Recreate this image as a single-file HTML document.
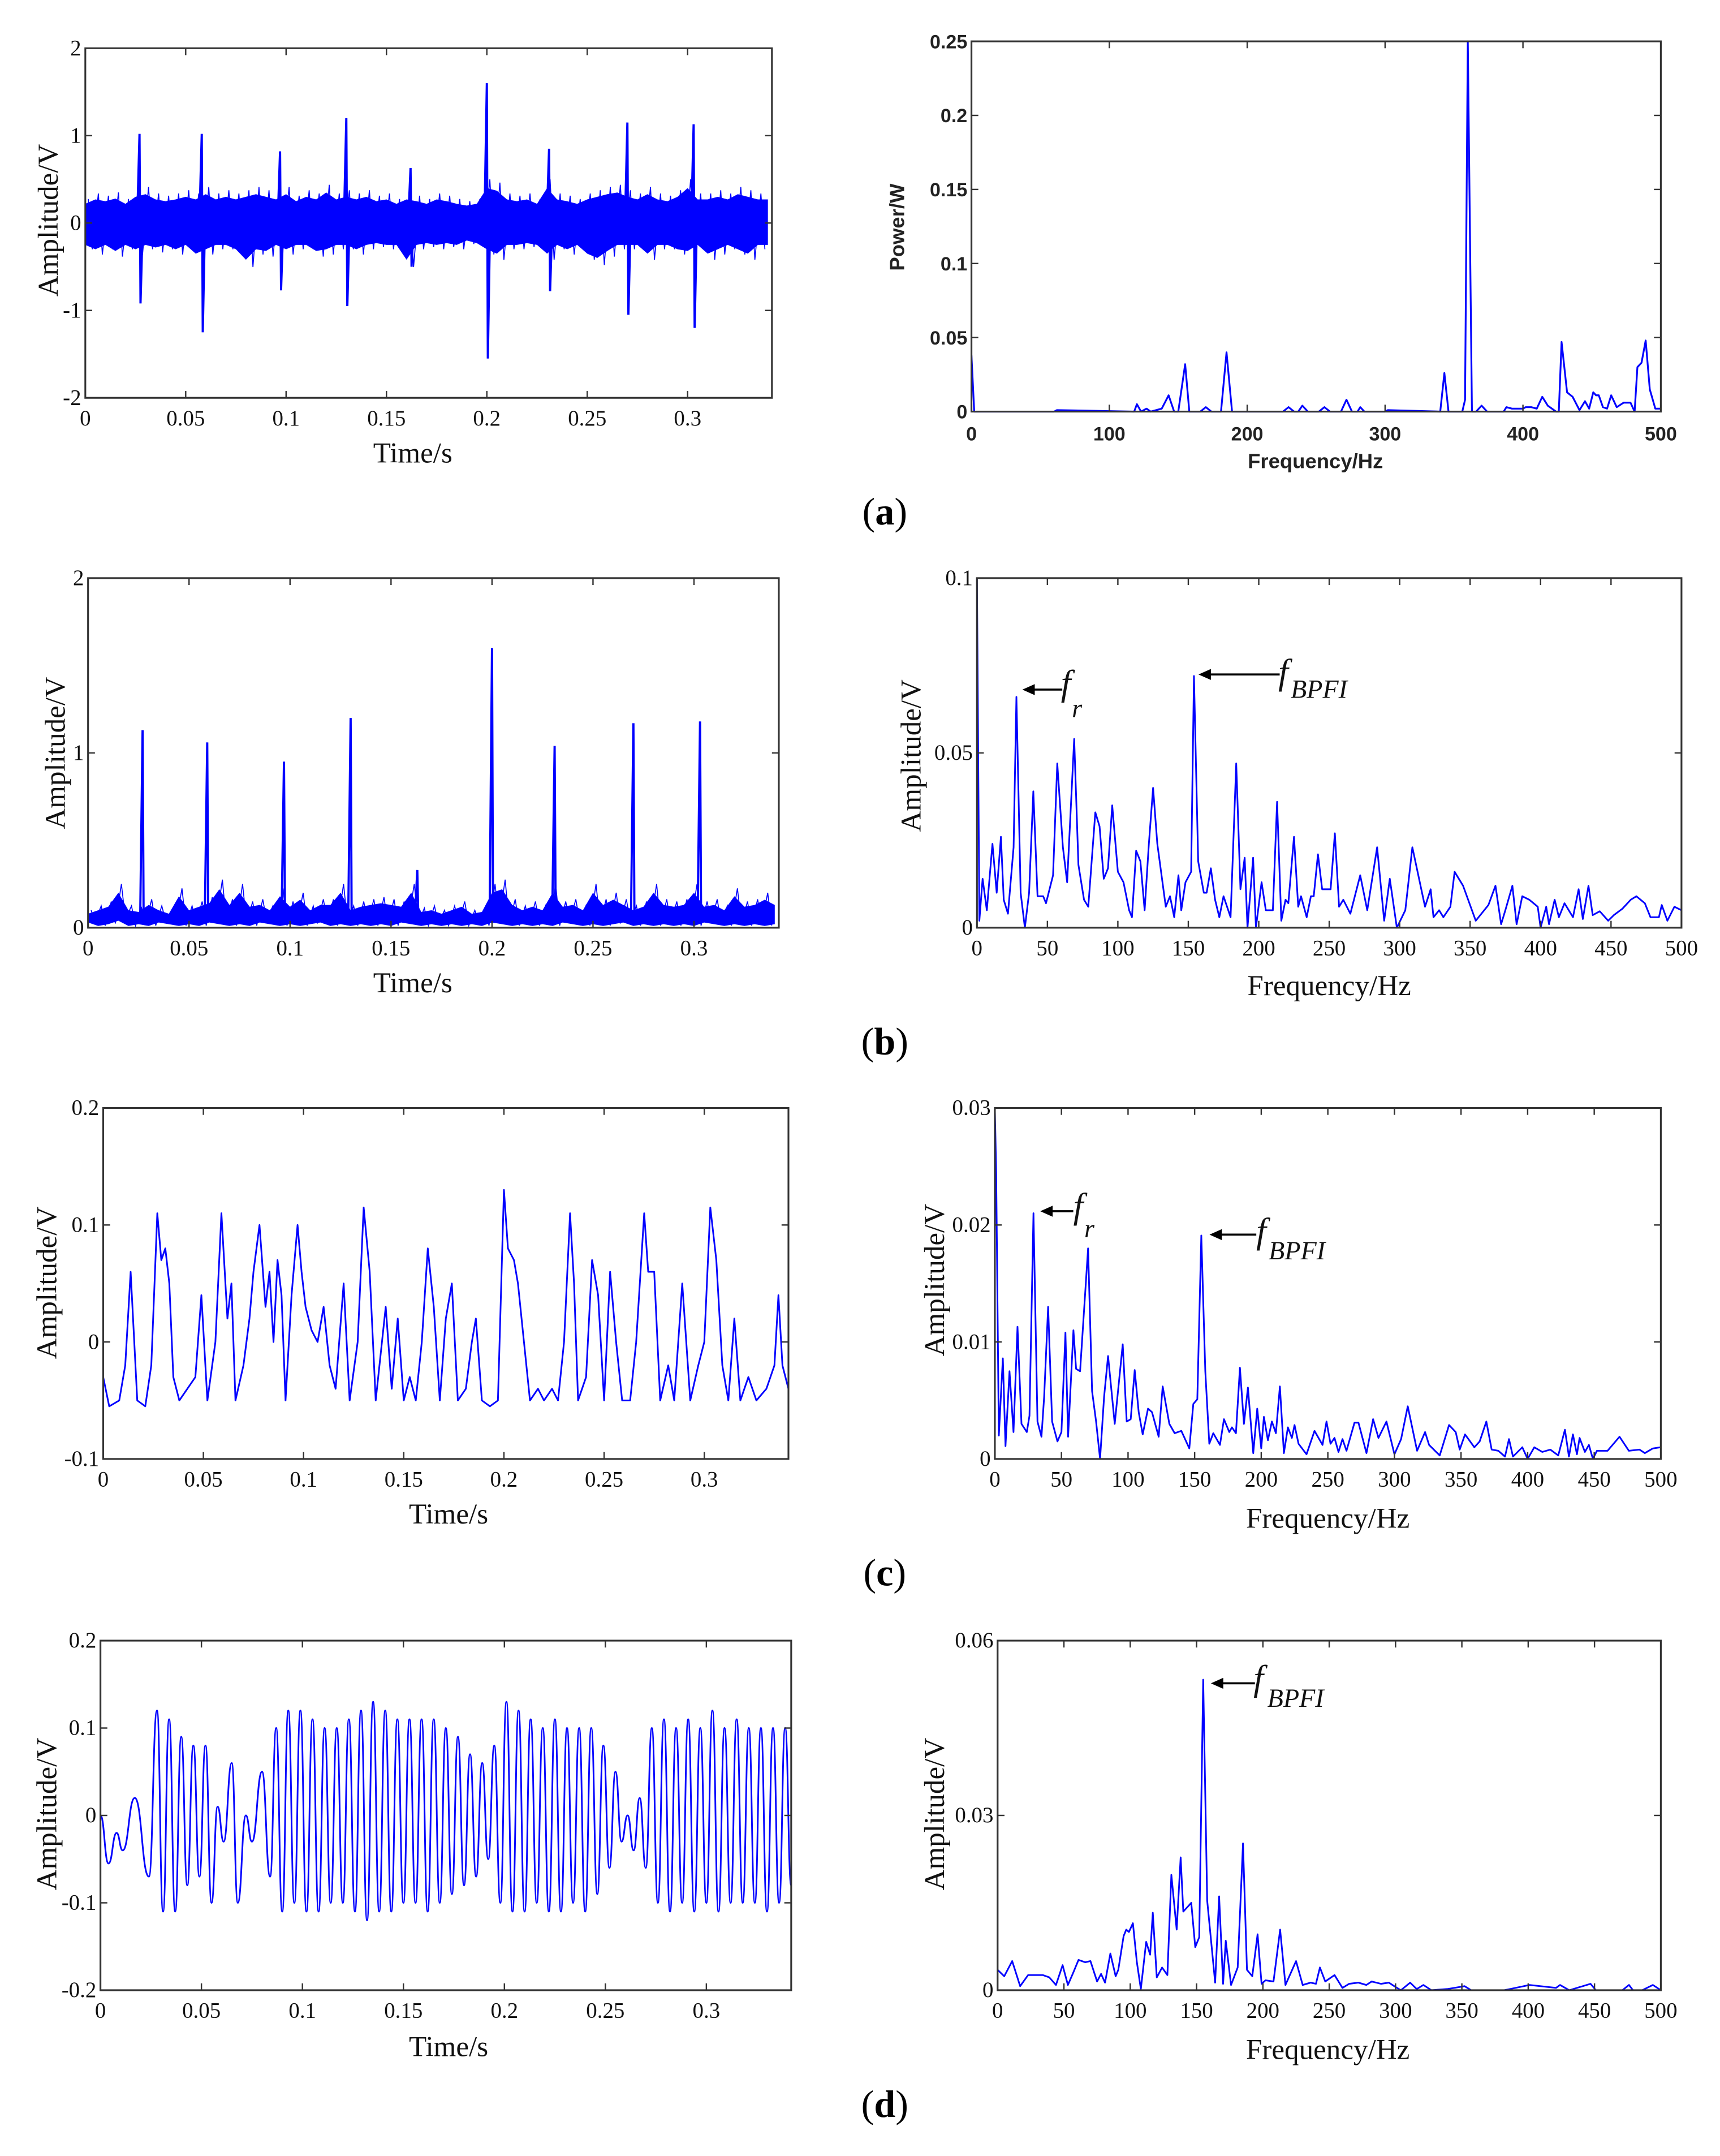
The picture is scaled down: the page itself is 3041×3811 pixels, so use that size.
<!DOCTYPE html>
<html><head><meta charset="utf-8"><style>
html,body{margin:0;padding:0;background:#fff}
svg{display:block}
.tk{font-family:"Liberation Serif",serif;font-size:16px;fill:#111}
.tt{font-family:"Liberation Serif",serif;font-size:21px;fill:#111}
.sb{font-family:"Liberation Sans",sans-serif;font-weight:bold;fill:#222}
.an{font-family:"Liberation Serif",serif;font-style:italic;fill:#111}
</style></head><body>
<svg id="fig" width="3041" height="3811" viewBox="0 0 1250 1566.4" xmlns="http://www.w3.org/2000/svg">
<rect x="0" y="0" width="1250" height="1566.4" fill="#fff"/>
</svg>
<script>
// ---------- DATA ----------
// (a) raw time signal: noise band (every 0.005 s) + impulses
const aBandUpper=[0.22,0.27,0.25,0.28,0.22,0.3,0.33,0.27,0.25,0.27,0.3,0.27,0.33,0.27,0.3,0.27,0.3,0.33,0.3,0.27,0.33,0.25,0.3,0.27,0.35,0.27,0.3,0.27,0.3,0.25,0.27,0.22,0.27,0.25,0.22,0.27,0.25,0.22,0.2,0.22,0.4,0.37,0.27,0.25,0.27,0.22,0.4,0.27,0.25,0.22,0.27,0.3,0.33,0.35,0.3,0.27,0.33,0.27,0.25,0.3,0.4,0.27,0.27,0.3,0.27,0.33,0.3,0.27,0.27];
const aBandLower=[-0.25,-0.3,-0.25,-0.32,-0.25,-0.3,-0.25,-0.28,-0.25,-0.3,-0.25,-0.35,-0.3,-0.25,-0.25,-0.3,-0.42,-0.3,-0.32,-0.25,-0.3,-0.25,-0.25,-0.32,-0.3,-0.25,-0.25,-0.3,-0.25,-0.23,-0.25,-0.25,-0.42,-0.25,-0.23,-0.25,-0.23,-0.25,-0.2,-0.23,-0.3,-0.35,-0.25,-0.25,-0.23,-0.25,-0.35,-0.25,-0.3,-0.25,-0.35,-0.4,-0.32,-0.25,-0.25,-0.25,-0.35,-0.25,-0.25,-0.3,-0.32,-0.25,-0.35,-0.3,-0.25,-0.3,-0.35,-0.25,-0.25];
const aSpikeTimes=[0.027,0.058,0.097,0.13,0.162,0.2,0.231,0.27,0.303];
const aSpikeUp=[1.02,1.02,0.82,1.2,0.63,1.6,0.85,1.15,1.13];
const aSpikeDown=[-0.92,-1.25,-0.77,-0.95,-0.5,-1.55,-0.78,-1.05,-1.2];
// (a) power spectrum
const aFreq=[0,2,60,62,118,120,123,127,130,138,143,147,150,155,158,166,170,174,181,185,189,226,230,234,237,240,244,252,256,260,268,272,276,280,282,285,300,302,340,343,346,356,358,360,363,366,370,374,386,388,392,400,402,406,410,414,418,424,426,428,432,436,441,445,448,451,453,455,458,461,464,468,473,478,481,483,486,489,492,496,500];
const aPow=[0.038,0,0,0.001,0,0.005,0,0.002,0,0.002,0.011,0,0,0.032,0,0,0.003,0,0,0.04,0,0,0.003,0,0,0.004,0,0,0.003,0,0,0.008,0,0,0.003,0,0,0.001,0,0.026,0,0,0.008,0.25,0,0,0.004,0,0,0.003,0.002,0.002,0.003,0.003,0.002,0.01,0.004,0,0,0.047,0.013,0.01,0.001,0.007,0.002,0.013,0.011,0.011,0.003,0.002,0.011,0.003,0.006,0.006,0,0.03,0.033,0.048,0.015,0.002,0.002];
// (b) envelope time signal
const bBandUpper=[0.08,0.1,0.12,0.2,0.1,0.09,0.13,0.1,0.08,0.18,0.1,0.12,0.14,0.22,0.13,0.2,0.12,0.13,0.1,0.18,0.12,0.16,0.1,0.13,0.13,0.2,0.1,0.12,0.13,0.14,0.13,0.12,0.2,0.09,0.1,0.08,0.1,0.12,0.08,0.09,0.2,0.22,0.13,0.1,0.12,0.1,0.2,0.12,0.13,0.1,0.2,0.13,0.16,0.13,0.1,0.12,0.2,0.13,0.12,0.13,0.2,0.12,0.13,0.1,0.18,0.12,0.13,0.16,0.13];
const bBandLower=[0.03,0.01,0.02,0.04,0.01,0.02,0.01,0.03,0.02,0.01,0.02,0.01,0.03,0.02,0.01,0.02,0.01,0.03,0.02,0.01,0.02,0.01,0.02,0.03,0.01,0.02,0.01,0.02,0.01,0.02,0.01,0.03,0.02,0.01,0.02,0.01,0.02,0.01,0.02,0.01,0.03,0.02,0.01,0.02,0.01,0.02,0.01,0.03,0.02,0.01,0.02,0.01,0.02,0.03,0.01,0.02,0.01,0.02,0.01,0.02,0.01,0.03,0.02,0.01,0.02,0.01,0.02,0.01,0.02];
const bSpikeTimes=[0.027,0.059,0.097,0.13,0.163,0.2,0.231,0.27,0.303];
const bSpikeUp=[1.13,1.06,0.95,1.2,0.33,1.6,1.04,1.17,1.18];
// (b) envelope spectrum
const bFreq=[0,1.7,4,7,11,14,17,19,22,26,28,31,34,37,40,43,47,49,54,57,61,64,69,72,76,79,84,87,90,93,96,100,104,108,110,113,116,119,122,125,128,134,137,140,143,145,148,152,154,157,161,163,166,169,172,175,180,184,187,190,192,196,198,202,205,210,213,216,219,221,225,228,230,234,237,239,242,245,251,254,257,260,265,272,277,284,289,293,298,304,309,318,322,324,328,331,336,339,345,354,363,368,372,375,380,383,387,392,398,400,404,406,410,413,417,423,427,430,434,437,442,448,452,458,464,468,474,478,484,486,490,495,500];
const bAmp=[0.1,0.002,0.014,0.005,0.024,0.01,0.026,0.008,0.004,0.023,0.066,0.01,0,0.01,0.039,0.009,0.009,0.007,0.015,0.047,0.023,0.013,0.054,0.018,0.008,0.006,0.033,0.029,0.014,0.017,0.035,0.016,0.013,0.005,0.003,0.022,0.019,0.005,0.024,0.04,0.024,0.006,0.009,0.003,0.015,0.005,0.013,0.016,0.072,0.019,0.01,0.01,0.017,0.008,0.003,0.009,0.003,0.047,0.011,0.02,0,0.02,0,0.013,0.005,0.005,0.036,0.002,0.008,0.007,0.026,0.006,0.009,0.003,0.009,0.009,0.021,0.011,0.011,0.027,0.006,0.008,0.004,0.015,0.005,0.023,0.002,0.014,0,0.005,0.023,0.006,0.011,0.003,0.005,0.003,0.006,0.016,0.012,0.002,0.0065,0.012,0.001,0.005,0.012,0.001,0.009,0.008,0.006,0,0.006,0.001,0.008,0.003,0.007,0.003,0.011,0.0025,0.012,0.0036,0.0047,0.002,0.0036,0.0054,0.008,0.009,0.007,0.003,0.003,0.0065,0.002,0.006,0.005];
// (c) filtered time signal (time, value)
const cTime=[0,0.003,0.008,0.011,0.0137,0.017,0.021,0.024,0.027,0.029,0.031,0.033,0.035,0.038,0.042,0.046,0.049,0.052,0.056,0.059,0.062,0.064,0.066,0.07,0.073,0.075,0.078,0.081,0.083,0.085,0.087,0.089,0.091,0.094,0.097,0.099,0.101,0.104,0.107,0.11,0.113,0.116,0.12,0.123,0.127,0.13,0.133,0.136,0.141,0.144,0.147,0.15,0.153,0.156,0.159,0.162,0.165,0.168,0.171,0.174,0.177,0.181,0.184,0.186,0.189,0.193,0.197,0.2,0.202,0.205,0.207,0.21,0.213,0.217,0.22,0.224,0.227,0.23,0.233,0.235,0.237,0.241,0.244,0.247,0.25,0.253,0.256,0.259,0.263,0.266,0.27,0.272,0.275,0.278,0.282,0.285,0.289,0.293,0.297,0.3,0.303,0.306,0.309,0.312,0.315,0.318,0.322,0.326,0.331,0.335,0.337,0.339,0.342];
const cVal=[-0.03,-0.055,-0.05,-0.02,0.06,-0.05,-0.055,-0.02,0.11,0.07,0.08,0.05,-0.03,-0.05,-0.04,-0.03,0.04,-0.05,0,0.11,0.02,0.05,-0.05,-0.02,0.02,0.06,0.1,0.03,0.06,0,0.07,0.04,-0.05,0.04,0.1,0.06,0.03,0.01,0,0.03,-0.02,-0.04,0.05,-0.05,0,0.115,0.06,-0.05,0.03,-0.04,0.02,-0.05,-0.03,-0.05,0,0.08,0.03,-0.05,0.02,0.05,-0.05,-0.04,0,0.02,-0.05,-0.055,-0.05,0.13,0.08,0.07,0.05,0,-0.05,-0.04,-0.05,-0.04,-0.05,0,0.11,0.05,-0.05,-0.03,0.07,0.04,-0.05,0.06,0,-0.05,-0.05,0,0.11,0.06,0.06,-0.05,-0.02,-0.05,0.05,-0.05,-0.02,0,0.115,0.07,-0.02,-0.05,0.02,-0.05,-0.03,-0.05,-0.04,-0.02,0.04,-0.02,-0.04];
// (c) spectrum
const cFreq=[0,1,3,6,8,11,14,17,20,24,26,29,32,35,37,40,43,47,50,53,55,59,61,64,70,73,76,79,82,85,90,96,99,102,105,108,111,115,118,123,126,131,135,140,146,149,152,155,158,161,164,169,172,176,178,181,184,187,190,194,197,200,202,205,208,211,214,217,220,223,225,228,234,240,246,249,252,255,258,261,264,270,273,279,284,288,294,300,305,310,317,323,326,334,341,346,349,353,360,364,369,373,378,383,386,389,396,400,405,411,417,423,428,431,434,437,439,443,446,449,452,460,469,476,484,488,494,500];
const cAmp=[0.03,0.0244,0.002,0.0086,0.0011,0.0075,0.0023,0.0113,0.003,0.0023,0.0037,0.021,0.0032,0.0019,0.0053,0.013,0.0032,0.0015,0.0023,0.0108,0.0019,0.011,0.0077,0.0075,0.018,0.0058,0.0032,0,0.0053,0.0088,0.003,0.0098,0.0032,0.0034,0.0076,0.004,0.0021,0.0043,0.004,0.0019,0.0062,0.003,0.0022,0.0024,0.0009,0.0047,0.0051,0.0191,0.0075,0.0013,0.0022,0.0012,0.0034,0.0023,0.0027,0.0022,0.0078,0.003,0.0061,0.0005,0.0043,0.0009,0.0036,0.0016,0.0032,0.0022,0.0062,0.0005,0.0027,0.0018,0.0029,0.0013,0.0004,0.0024,0.0012,0.0032,0.0013,0.0018,0.0006,0.0017,0.0007,0.0031,0.0031,0.0005,0.0034,0.0018,0.0032,0.0004,0.0017,0.0045,0.0007,0.0023,0.0012,0.0003,0.0029,0.0023,0.0008,0.0021,0.001,0.0015,0.0032,0.0008,0.0007,0.0002,0.0017,0.0002,0.001,0,0.001,0.0006,0.0008,0.0003,0.0025,0.0002,0.0021,0.0004,0.0018,0.0006,0.0012,0,0.0007,0.0007,0.0019,0.0007,0.0008,0.0005,0.0009,0.001];
// (d) band-filtered time signal extrema (time, value)
const dTime=[0,0.004,0.008,0.011,0.017,0.024,0.028,0.031,0.034,0.037,0.04,0.043,0.046,0.049,0.052,0.055,0.058,0.061,0.065,0.068,0.072,0.075,0.08,0.084,0.087,0.09,0.093,0.096,0.099,0.102,0.105,0.108,0.111,0.114,0.117,0.12,0.123,0.126,0.129,0.132,0.135,0.138,0.141,0.144,0.147,0.15,0.153,0.156,0.159,0.162,0.165,0.168,0.171,0.174,0.177,0.18,0.183,0.186,0.189,0.192,0.195,0.198,0.201,0.204,0.207,0.21,0.213,0.216,0.219,0.222,0.225,0.228,0.231,0.234,0.237,0.24,0.243,0.246,0.249,0.252,0.255,0.258,0.261,0.264,0.267,0.27,0.273,0.276,0.279,0.282,0.285,0.288,0.291,0.294,0.297,0.3,0.303,0.306,0.309,0.312,0.315,0.318,0.321,0.324,0.327,0.33,0.333,0.336,0.339,0.342];
const dVal=[0,-0.055,-0.02,-0.04,0.02,-0.07,0.12,-0.11,0.11,-0.11,0.09,-0.08,0.08,-0.07,0.08,-0.1,0.01,-0.03,0.06,-0.1,0,-0.03,0.05,-0.07,0.1,-0.11,0.12,-0.1,0.12,-0.11,0.11,-0.11,0.1,-0.1,0.1,-0.1,0.11,-0.11,0.12,-0.12,0.13,-0.11,0.12,-0.11,0.11,-0.1,0.11,-0.1,0.11,-0.11,0.11,-0.1,0.1,-0.09,0.09,-0.08,0.07,-0.07,0.06,-0.05,0.08,-0.1,0.13,-0.11,0.12,-0.11,0.11,-0.1,0.1,-0.11,0.11,-0.11,0.1,-0.1,0.1,-0.11,0.1,-0.09,0.08,-0.06,0.05,-0.03,0,-0.04,0.02,-0.06,0.1,-0.1,0.11,-0.11,0.1,-0.1,0.11,-0.11,0.1,-0.1,0.12,-0.11,0.1,-0.1,0.11,-0.1,0.1,-0.1,0.1,-0.11,0.1,-0.1,0.1,-0.08];
// (d) spectrum
const dFreq=[0,5,11,17,23,34,39,44,49,53,57,61,66,70,75,78,81,85,89,91,95,97,99,102,105,108,112,115,117,120,124,128,131,135,138,140,146,149,152,155,158,164,167,170,172,176,181,185,188,192,196,199,202,208,213,217,225,230,236,240,243,247,254,260,265,272,278,282,289,295,299,304,311,316,321,327,339,352,357,382,401,421,424,431,447,451,471,476,479,486,494,500];
const dAmp=[0.0035,0.0024,0.005,0.0007,0.0026,0.0026,0.0022,0.0009,0.0043,0.0009,0.003,0.0052,0.0048,0.005,0.0015,0.0028,0.0013,0.0063,0.0024,0.0035,0.0093,0.0104,0.01,0.0115,0.0048,0.0002,0.0083,0.0061,0.0133,0.0022,0.0039,0.0026,0.0198,0.0104,0.0228,0.0135,0.015,0.0074,0.0091,0.0533,0.0154,0.0013,0.0161,0.0011,0.0085,0.0009,0.0039,0.0252,0.0035,0.0024,0.0096,0.0011,0.0017,0.0015,0.0104,0.0009,0.005,0.0009,0.0013,0.0011,0.0039,0.0015,0.0026,0.0004,0.0011,0.0013,0.0009,0.0015,0.0011,0.0013,0.0007,0,0.0013,0.0002,0.0009,0,0.0002,0.0007,0,0,0.0009,0.0004,0.0009,0,0.0011,0,0,0.0009,0,0,0.0009,0];
// tick labels
const timeTicks=[0,0.05,0.1,0.15,0.2,0.25,0.3];
const timeTickLabels=["0","0.05","0.1","0.15","0.2","0.25","0.3"];
const freqTicks100=[0,100,200,300,400,500];
const freqTicks50=[0,50,100,150,200,250,300,350,400,450,500];
const aYTicks=[-2,-1,0,1,2];
const aPYTicks=[0,0.05,0.1,0.15,0.2,0.25];
const bYTicks=[0,1,2];
const bPYTicks=[0,0.05,0.1];
const cYTicks=[-0.1,0,0.1,0.2];
const cPYTicks=[0,0.01,0.02,0.03];
const dYTicks=[-0.2,-0.1,0,0.1,0.2];
const dPYTicks=[0,0.03,0.06];

// ---------- DRAWING ----------
const NS="http://www.w3.org/2000/svg";
const svg=document.getElementById('fig');
function mk(tag,attrs,parent){const e=document.createElementNS(NS,tag);for(const k in attrs)e.setAttribute(k,attrs[k]);(parent||svg).appendChild(e);return e;}
function fmt(v){return String(+v.toFixed(4));}
function panel(name,box,xd,yd){
  const g=mk('g',{});
  
  
  const sx=v=>box.x0+(v-xd[0])/(xd[1]-xd[0])*(box.x1-box.x0);
  const sy=v=>box.y1-(v-yd[0])/(yd[1]-yd[0])*(box.y1-box.y0);
  return {g,sx,sy,box};
}
function frame(p,xt,xl,yt,opt){
  const b=p.box,g=p.g;
  const cls=opt.bold?'sb':'tk', fs=opt.bold?14:16;
  const fr=mk('rect',{x:b.x0,y:b.y0,width:b.x1-b.x0,height:b.y1-b.y0,fill:'none',stroke:'#333','stroke-width':1.3},g);
  
  
  xt.forEach((v,i)=>{const x=p.sx(v);
    mk('line',{x1:x,y1:b.y1,x2:x,y2:b.y1-5,stroke:'#333','stroke-width':1},g);
    mk('line',{x1:x,y1:b.y0,x2:x,y2:b.y0+5,stroke:'#333','stroke-width':1},g);
    const t=mk('text',{x:x,y:b.y1+(opt.bold?21:20),'text-anchor':'middle',class:cls,'font-size':fs},g);
    t.textContent=xl[i];
    
    
  });
  yt.forEach(v=>{const y=p.sy(v);
    mk('line',{x1:b.x0,y1:y,x2:b.x0+5,y2:y,stroke:'#333','stroke-width':1},g);
    mk('line',{x1:b.x1,y1:y,x2:b.x1-5,y2:y,stroke:'#333','stroke-width':1},g);
    const t=mk('text',{x:b.x0-3,y:y+5,'text-anchor':'end',class:cls,'font-size':fs},g);
    t.textContent=fmt(v);
    
    
  });
  const xtl=mk('text',{x:opt.xtx,y:opt.xty,'text-anchor':'middle',class:opt.bold?'sb':'tt','font-size':opt.bold?15:21},g);
  xtl.textContent=opt.xtitle;
  
  
  const ytl=mk('text',{x:opt.ytx,y:opt.yty,'text-anchor':'middle',class:opt.bold?'sb':'tt','font-size':opt.bold?15:21,transform:`rotate(-90 ${opt.ytx} ${opt.yty})`},g);
  ytl.textContent=opt.ytitle;
  
  
}
function line(p,xs,ys,w,name){
  const d=xs.map((x,i)=>(i?'L':'M')+p.sx(x).toFixed(2)+' '+p.sy(ys[i]).toFixed(2)).join(' ');
  const e=mk('path',{d:d,fill:'none',stroke:'#0000ff','stroke-width':w||1.2,'stroke-linejoin':'round'},p.g);
  
  
}
function smooth(p,xs,ys,name){
  let d='M'+p.sx(xs[0]).toFixed(2)+' '+p.sy(ys[0]).toFixed(2);
  for(let i=1;i<xs.length;i++){const x0=p.sx(xs[i-1]),x1=p.sx(xs[i]),y0=p.sy(ys[i-1]),y1=p.sy(ys[i]),m=(x0+x1)/2;
    d+=` C${m.toFixed(2)} ${y0.toFixed(2)} ${m.toFixed(2)} ${y1.toFixed(2)} ${x1.toFixed(2)} ${y1.toFixed(2)}`;}
  const e=mk('path',{d:d,fill:'none',stroke:'#0000ff','stroke-width':1.2},p.g);
  
  
}
function band(p,up,lo,dt,name){
  const n=Math.min(up.length,lo.length);
  let pts=[];
  for(let i=0;i<n;i++){const t=Math.min(i*dt,0.342);pts.push(p.sx(t).toFixed(2)+','+p.sy(up[i]).toFixed(2));}
  for(let i=n-1;i>=0;i--){const t=Math.min(i*dt,0.342);pts.push(p.sx(t).toFixed(2)+','+p.sy(lo[i]).toFixed(2));}
  const e=mk('polygon',{points:pts.join(' '),fill:'#0000ff',stroke:'none'},p.g);
  
  
  let d='';
  for(let i=0;i<n-1;i++){const t=i*dt;
    d+=(i?'L':'M')+p.sx(t+dt*0.3).toFixed(2)+' '+p.sy(up[i]*1.25).toFixed(2)+' L'+p.sx(t+dt*0.7).toFixed(2)+' '+p.sy(lo[i]*1.2).toFixed(2)+' ';}
  const z=mk('path',{d:d,fill:'none',stroke:'#0000ff','stroke-width':0.7},p.g);
  
  
}
function spikes(p,ts,up,down,base,name){
  ts.forEach((t,i)=>{
    const pts=[[t-0.0012,base],[t,up[i]],[t+0.0005,down?down[i]:base+0.02],[t+0.0016,base]];
    const e=mk('polyline',{points:pts.map(q=>p.sx(q[0]).toFixed(2)+','+p.sy(q[1]).toFixed(2)).join(' '),fill:'none',stroke:'#0000ff','stroke-width':1.6},p.g);
    
    
  });
}
function annot(p,xTail,xHead,y,sub,fx,fy,subx,suby){
  const g=p.g;
  const a=mk('g',{},g);
  
  
  mk('line',{x1:xTail,y1:y,x2:xHead+6,y2:y,stroke:'#000','stroke-width':1.5},a);
  mk('polygon',{points:`${xHead},${y} ${xHead+9},${y-4} ${xHead+9},${y+4}`,fill:'#000'},a);
  const f=mk('text',{x:fx,y:fy,class:'an','font-size':26},a);f.textContent='f';
  const s=mk('text',{x:subx,y:suby,class:'an','font-size':19},a);s.textContent=sub;
}
function caption(txt,x,y){
  const t=mk('text',{x:x,y:y,'text-anchor':'middle','font-family':'Liberation Serif, serif','font-size':28,fill:'#000'});
  t.innerHTML='('+'<tspan font-weight="bold">'+txt+'</tspan>'+')';
  
  
}

// (a) left
let p=panel('panel-a-time',{x0:62,x1:561,y0:35,y1:289},[0,0.342],[-2,2]);
band(p,aBandUpper,aBandLower,0.005,'series-a-noise');
spikes(p,aSpikeTimes,aSpikeUp,aSpikeDown,0,'series-a-impulse');
frame(p,timeTicks,timeTickLabels,aYTicks,{xtitle:'Time/s',xtx:300,xty:336,ytitle:'Amplitude/V',ytx:42,yty:160});
// (a) right
p=panel('panel-a-spectrum',{x0:706,x1:1207,y0:30,y1:299},[0,500],[0,0.25]);
line(p,aFreq,aPow,1.3,'series-a-power');
frame(p,freqTicks100,freqTicks100.map(String),aPYTicks,{bold:true,xtitle:'Frequency/Hz',xtx:956,xty:340,ytitle:'Power/W',ytx:657,yty:165});
caption('a',643,381);
// (b)
p=panel('panel-b-time',{x0:64,x1:566,y0:420,y1:674},[0,0.342],[0,2]);
band(p,bBandUpper,bBandLower,0.005,'series-b-noise');
spikes(p,bSpikeTimes,bSpikeUp,null,0.05,'series-b-impulse');
frame(p,timeTicks,timeTickLabels,bYTicks,{xtitle:'Time/s',xtx:300,xty:721,ytitle:'Amplitude/V',ytx:47,yty:547});
p=panel('panel-b-spectrum',{x0:710,x1:1222,y0:420,y1:674},[0,500],[0,0.1]);
line(p,bFreq,bAmp,1.2,'series-b-envelope-spectrum');
frame(p,freqTicks50,freqTicks50.map(String),bPYTicks,{xtitle:'Frequency/Hz',xtx:966,xty:723,ytitle:'Amplitude/V',ytx:669,yty:549});
annot(p,772,743,501,'r',771,505,779,521);
annot(p,930,871,490,'BPFI',929,497,938,507);
caption('b',643,766);
// (c)
p=panel('panel-c-time',{x0:75,x1:573,y0:805,y1:1060},[0,0.342],[-0.1,0.2]);
line(p,cTime,cVal,1.2,'series-c-signal');
frame(p,timeTicks,timeTickLabels,cYTicks,{xtitle:'Time/s',xtx:326,xty:1107,ytitle:'Amplitude/V',ytx:41,yty:932});
p=panel('panel-c-spectrum',{x0:723,x1:1207,y0:805,y1:1060},[0,500],[0,0.03]);
line(p,cFreq,cAmp,1.2,'series-c-spectrum');
frame(p,freqTicks50,freqTicks50.map(String),cPYTicks,{xtitle:'Frequency/Hz',xtx:965,xty:1110,ytitle:'Amplitude/V',ytx:686,yty:930});
annot(p,780,756,880,'r',780,885,788,899);
annot(p,913,879,897,'BPFI',913,903,922,915);
caption('c',643,1152);
// (d)
p=panel('panel-d-time',{x0:73,x1:575,y0:1192,y1:1446},[0,0.342],[-0.2,0.2]);
smooth(p,dTime,dVal,'series-d-signal');
frame(p,timeTicks,timeTickLabels,dYTicks,{xtitle:'Time/s',xtx:326,xty:1494,ytitle:'Amplitude/V',ytx:41,yty:1318});
p=panel('panel-d-spectrum',{x0:725,x1:1207,y0:1192,y1:1446},[0,500],[0,0.06]);
line(p,dFreq,dAmp,1.2,'series-d-spectrum');
frame(p,freqTicks50,freqTicks50.map(String),dPYTicks,{xtitle:'Frequency/Hz',xtx:965,xty:1496,ytitle:'Amplitude/V',ytx:686,yty:1318});
annot(p,912,880,1223,'BPFI',911,1228,921,1240);
caption('d',643,1538);
</script>
</body></html>
